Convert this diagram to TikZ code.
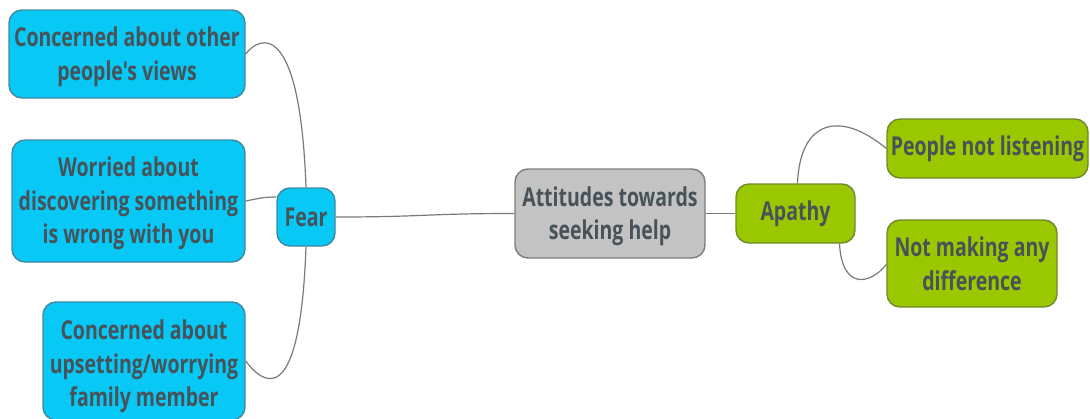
\documentclass[tikz,border=0pt]{standalone}
\usepackage{fontspec}
\newfontfamily\mapfont[FakeStretch=0.75]{Open Sans}
\usepackage{tikz,xcolor}
\usetikzlibrary{positioning,calc}

\definecolor{fearblue}{HTML}{08C8F6}
\definecolor{fearedge}{HTML}{3D8BA0}
\definecolor{apathygreen}{HTML}{99C800}
\definecolor{apathyedge}{HTML}{6F8A2A}
\definecolor{hubgray}{HTML}{C3C3C3}
\definecolor{hubedge}{HTML}{7D7D7D}
\definecolor{labeltext}{HTML}{475259}
\definecolor{linkgray}{HTML}{7A7A7A}

\newcommand{\tallstrut}[1]{\rule{0pt}{#1}}

\begin{document}
\begin{tikzpicture}[x=1pt,y=-1pt,
  topic/.style={draw, line width=1.4pt, rounded corners=13pt, inner sep=0pt, align=center,
    text=labeltext, font=\mapfont\bfseries\fontsize{26}{33.5}\selectfont},
  fearbox/.style={topic, fill=fearblue, draw=fearedge},
  apathybox/.style={topic, fill=apathygreen, draw=apathyedge},
  hubbox/.style={topic, fill=hubgray, draw=hubedge},
  link/.style={draw=linkgray, line width=1.2pt}]
\useasboundingbox (0,0) rectangle (1090,418);

% centre
\node[hubbox, minimum width=190pt, minimum height=89pt] (hub) at (610,213.5) {\tallstrut{25pt}Attitudes towards\\seeking help};

% fear branch
\node[fearbox, minimum width=58pt, minimum height=58pt] (fear) at (306,217) {Fear};
\node[fearbox, minimum width=236pt, minimum height=88pt] (views) at (127,54) {\tallstrut{25pt}Concerned about other\\people's views};
\node[fearbox, minimum width=233pt, minimum height=122pt] (wrong) at (128.5,201) {\tallstrut{25pt}Worried about\\discovering something\\is wrong with you};
\node[fearbox, minimum width=202pt, minimum height=118pt] (family) at (144,361) {\tallstrut{31pt}Concerned about\\upsetting/worrying\\family member};

% apathy branch
\node[apathybox, minimum width=119pt, minimum height=59pt] (apathy) at (795.5,213.5) {Apathy};
\node[apathybox, minimum width=201pt, minimum height=59pt] (listen) at (987.5,148.5) {People not listening};
\node[apathybox, minimum width=170pt, minimum height=87pt] (diff) at (972,263.5) {Not making any\\difference};

\draw[link] (fear.east) .. controls +(90,0) and +(-90,0) .. (hub.west);
\draw[link] (hub.east) -- (apathy.west);

\draw[link] (fear.north) .. controls (300,20) and (260,35) .. (views.east);
\draw[link] ($(fear.west)+(0,-20)$) .. controls +(-12,0) and +(15,-3) .. (wrong.east);
\draw[link] (fear.south) .. controls (300,414) and (262,383) .. (family.east);

\draw[link] ([xshift=2pt]apathy.north) .. controls (800,120) and (840,110) .. (listen.west);
\draw[link] ([xshift=44pt]apathy.south) .. controls (842,290) and (870,285) .. ([yshift=-1pt]diff.west);
\end{tikzpicture}
\end{document}
